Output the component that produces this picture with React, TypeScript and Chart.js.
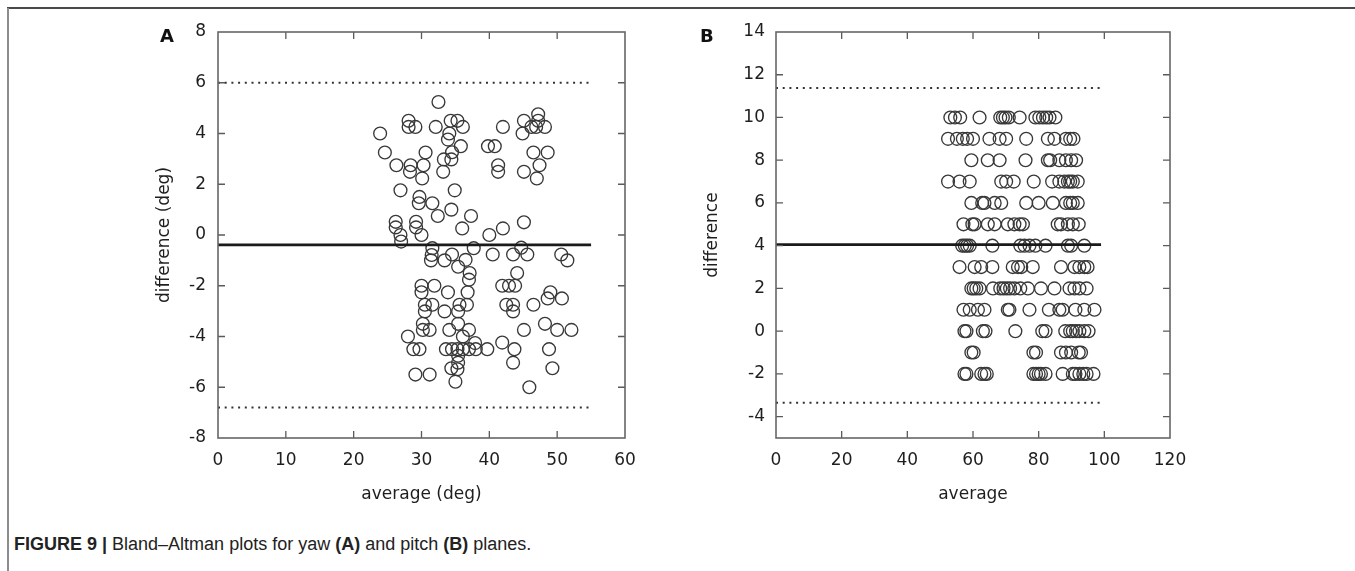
import React, { useEffect, useRef } from "react";
import { Chart, registerables } from "chart.js";

Chart.register(...registerables);

// ---------- Panel A (yaw) ----------
const yawAverage = [
  23.9, 24.6, 28.1, 28.1, 29.1, 32.5, 32.1, 34.3, 35.3, 36.1,
  34.1, 33.9, 35.8, 34.5, 34.4, 33.3, 33.2, 30.6, 30.3, 28.4,
  26.3, 28.3, 30.1, 26.9, 34.9, 29.7, 29.6, 31.6, 34.4, 32.4,
  37.3, 26.2, 26.2, 29.2, 29.2, 30.0, 26.9, 27.0, 36.0, 40.0,
  42.0, 45.1, 42.0, 39.8, 40.8, 41.3, 41.3, 45.1, 47.2, 47.2,
  46.2, 46.9, 48.2, 44.9, 46.5, 48.6, 47.4, 45.1, 47.0, 31.6,
  31.5, 31.4, 33.4, 34.5, 35.4, 36.5, 37.1, 37.0, 37.7, 40.5,
  43.5, 44.7, 45.6, 44.1, 50.6, 51.5, 30.0, 31.9, 30.0, 33.9,
  36.8, 41.9, 42.9, 43.8, 49.0, 48.6, 50.7, 30.5, 31.6, 30.5,
  33.4, 35.6, 36.7, 35.4, 35.4, 42.5, 43.5, 43.5, 46.5, 36.1,
  30.2, 30.2, 31.2, 34.1, 37.0, 28.0, 28.8, 29.7, 33.6, 34.5,
  35.3, 36.1, 37.0, 37.9, 38.0, 39.7, 41.9, 43.7, 43.5, 45.1,
  48.2, 50.0, 52.1, 48.8, 49.3, 34.4, 35.4, 35.3, 35.4, 35.0,
  29.1, 31.2, 45.9,
];
const yawDifference = [
  4.0, 3.25, 4.5, 4.26, 4.26, 5.24, 4.26, 4.5, 4.5, 4.26,
  4.0, 3.76, 3.5, 3.26, 2.98, 2.98, 2.49, 3.25, 2.75, 2.75,
  2.75, 2.49, 2.23, 1.76, 1.76, 1.5, 1.25, 1.25, 1.0, 0.75,
  0.75, 0.52, 0.3, 0.52, 0.3, 0.0, 0.0, -0.26, 0.26, 0.0,
  0.26, 0.5, 4.26, 3.5, 3.5, 2.75, 2.49, 4.5, 4.76, 4.5,
  4.26, 4.26, 4.26, 4.0, 3.25, 3.25, 2.75, 2.49, 2.23, -0.52,
  -0.79, -1.0, -1.0, -0.77, -1.25, -0.98, -1.5, -1.76, -0.52, -0.77,
  -0.77, -0.5, -0.77, -1.5, -0.77, -1.0, -2.0, -2.0, -2.26, -2.26,
  -2.26, -2.0, -2.0, -2.0, -2.26, -2.5, -2.5, -2.75, -2.75, -3.01,
  -3.01, -2.75, -2.75, -3.01, -3.5, -2.75, -2.75, -3.01, -2.75, -4.0,
  -3.5, -3.74, -3.74, -3.74, -3.74, -4.0, -4.5, -4.5, -4.5, -4.5,
  -4.5, -4.5, -4.5, -4.26, -4.5, -4.5, -4.24, -4.5, -5.03, -3.74,
  -3.5, -3.74, -3.74, -4.5, -5.25, -5.25, -5.03, -5.29, -4.76, -5.78,
  -5.5, -5.5, -6.0,
];
const yawMean = -0.39;
const yawUpperLimit = 6.0;
const yawLowerLimit = -6.8;
const yawLineRange = [0, 55];
const yawXTicks = [0, 60, 10];
const yawYTicks = [-8, 8, 2];

// ---------- Panel B (pitch) ----------
const pitchLevels = [10, 9, 8, 7, 6, 5, 4, 3, 2, 1, 0, -1, -2];
const pitchAvg10 = [53.1, 54.5, 56.1, 62.0, 68.3, 69.1, 69.9, 70.9, 74.2, 79.0, 80.2, 81.3, 82.3, 83.3, 85.1];
const pitchAvg9 = [52.4, 55.1, 56.9, 58.2, 60.0, 65.0, 68.1, 70.1, 76.2, 82.8, 84.8, 88.3, 89.6, 90.6];
const pitchAvg8 = [59.5, 64.5, 68.1, 76.0, 82.8, 83.5, 86.3, 88.3, 89.9, 91.4];
const pitchAvg7 = [52.4, 55.9, 59.0, 68.6, 70.1, 72.4, 78.5, 84.1, 86.3, 87.8, 88.9, 89.6, 90.4, 91.9];
const pitchAvg6 = [59.5, 62.8, 63.5, 66.6, 68.6, 76.2, 80.0, 84.3, 88.3, 89.6, 90.4, 91.9];
const pitchAvg5 = [57.1, 59.8, 60.5, 64.5, 66.6, 70.6, 72.6, 74.2, 75.2, 85.8, 86.8, 88.9, 90.4, 92.2];
const pitchAvg4 = [56.7, 57.5, 58.2, 59.0, 65.9, 74.4, 75.7, 77.2, 79.0, 82.1, 88.9, 89.9, 93.9];
const pitchAvg3 = [55.9, 60.5, 62.5, 65.9, 72.1, 73.7, 74.7, 78.2, 86.8, 90.9, 92.4, 93.9, 94.9];
const pitchAvg2 = [59.5, 60.2, 61.0, 62.0, 66.1, 68.3, 69.3, 70.3, 71.3, 72.6, 74.4, 76.7, 80.7, 84.8, 89.4, 90.9, 92.4, 94.6];
const pitchAvg1 = [57.1, 59.0, 61.5, 63.5, 70.6, 71.1, 77.2, 83.1, 86.3, 87.3, 91.2, 93.9, 97.0];
const pitchAvg0 = [57.4, 58.0, 63.0, 63.8, 72.9, 81.1, 82.1, 88.1, 89.6, 90.4, 91.4, 92.4, 93.9, 95.2];
const pitchAvgM1 = [59.5, 60.2, 78.4, 79.2, 86.8, 88.3, 89.9, 92.2, 92.9];
const pitchAvgM2 = [57.4, 58.0, 62.5, 63.5, 64.2, 78.4, 79.2, 80.0, 80.7, 82.1, 87.3, 90.4, 91.2, 92.4, 93.6, 94.6, 96.7];
const pitchAverages = [
  pitchAvg10, pitchAvg9, pitchAvg8, pitchAvg7, pitchAvg6, pitchAvg5, pitchAvg4,
  pitchAvg3, pitchAvg2, pitchAvg1, pitchAvg0, pitchAvgM1, pitchAvgM2,
];
const pitchMean = 4.05;
const pitchUpperLimit = 11.38;
const pitchLowerLimit = -3.35;
const pitchLineRange = [0, 99];
const pitchXTicks = [0, 120, 20];
const pitchYTicks = [-5, 14, 2];

// ---------- drawing ----------
const FONT = "'DejaVu Sans', sans-serif";
const TEXT = "#1e1e1e";

const framePlugin = {
  id: "gnuplotFrame",
  afterDatasetsDraw(chart: any) {
    const { ctx, chartArea } = chart;
    const { left, right, top, bottom } = chartArea;
    const xs = chart.scales.x;
    const ys = chart.scales.y;
    const L = 7;
    ctx.save();
    ctx.strokeStyle = "#5a5a5a";
    ctx.lineWidth = 1.3;
    ctx.beginPath();
    xs.ticks.forEach((t: any) => {
      const p = xs.getPixelForValue(t.value);
      if (p <= left + 1 || p >= right - 1) return;
      ctx.moveTo(p, bottom);
      ctx.lineTo(p, bottom - L);
      ctx.moveTo(p, top);
      ctx.lineTo(p, top + L);
    });
    ys.ticks.forEach((t: any) => {
      const p = ys.getPixelForValue(t.value);
      if (p <= top + 1 || p >= bottom - 1) return;
      ctx.moveTo(left, p);
      ctx.lineTo(left + L, p);
      ctx.moveTo(right, p);
      ctx.lineTo(right - L, p);
    });
    ctx.stroke();
    ctx.lineWidth = 1.6;
    ctx.strokeStyle = "#666";
    ctx.strokeRect(left, top, right - left, bottom - top);
    ctx.restore();
  },
};

function hLine(y: number, range: number[], dotted: boolean) {
  return {
    type: "line",
    data: [
      { x: range[0], y },
      { x: range[1], y },
    ],
    borderColor: dotted ? "#333" : "#1a1a1a",
    borderWidth: dotted ? 2 : 2.6,
    borderDash: dotted ? [2, 4.7] : [],
    borderCapStyle: "butt",
    pointRadius: 0,
    showLine: true,
    fill: false,
    order: 0,
  };
}

function makeConfig(p: any) {
  const font = { family: FONT, size: 17 };
  return {
    type: "scatter",
    data: {
      datasets: [
        {
          data: p.points,
          pointStyle: "circle",
          pointRadius: 6.4,
          pointBorderWidth: 1.35,
          pointBorderColor: "#383838",
          pointBackgroundColor: "rgba(0,0,0,0)",
          borderColor: "#383838",
          backgroundColor: "rgba(0,0,0,0)",
          order: 1,
        },
        hLine(p.upper, p.range, true),
        hLine(p.mean, p.range, false),
        hLine(p.lower, p.range, true),
      ],
    },
    options: {
      animation: false,
      responsive: false,
      maintainAspectRatio: false,
      events: [],
      layout: { padding: { top: 32, right: p.padRight, bottom: 0, left: 0 } },
      plugins: { legend: { display: false }, tooltip: { enabled: false } },
      scales: {
        x: {
          type: "linear",
          min: p.xTicks[0],
          max: p.xTicks[1],
          grid: { display: false, drawTicks: false },
          border: { display: false },
          ticks: { stepSize: p.xTicks[2], padding: 12.8, font, color: TEXT, maxRotation: 0, includeBounds: false },
          title: { display: true, text: p.xTitle, font, color: TEXT, padding: { top: 0, bottom: 15.5 } },
          afterFit: (s: any) => {
            s.height = 82;
          },
        },
        y: {
          type: "linear",
          min: p.yTicks[0],
          max: p.yTicks[1],
          grid: { display: false, drawTicks: false },
          border: { display: false },
          ticks: { stepSize: p.yTicks[2], padding: p.yPad, font, color: TEXT, includeBounds: false },
          title: { display: true, text: p.yTitle, font, color: TEXT, padding: { top: p.yTitlePad, bottom: 0 } },
          afterFit: (s: any) => {
            s.width = p.yWidth;
          },
        },
      },
    },
    plugins: [framePlugin],
  };
}

function Panel(props: { cfg: any; left: number }) {
  const ref = useRef<HTMLCanvasElement | null>(null);
  useEffect(() => {
    if (!ref.current) return;
    const chart = new Chart(ref.current, makeConfig(props.cfg) as any);
    return () => chart.destroy();
  }, []);
  return (
    <canvas
      ref={ref}
      width={520}
      height={520}
      style={{ position: "absolute", left: props.left, top: 0, width: 520, height: 520 }}
    />
  );
}

export default function App() {
  const yawPoints = yawAverage.map((x, i) => ({ x, y: yawDifference[i] }));
  const pitchPoints: { x: number; y: number }[] = [];
  pitchLevels.forEach((lvl, i) => {
    pitchAverages[i].forEach((x) => pitchPoints.push({ x, y: lvl }));
  });

  const cfgA = {
    points: yawPoints,
    mean: yawMean,
    upper: yawUpperLimit,
    lower: yawLowerLimit,
    range: yawLineRange,
    xTicks: yawXTicks,
    yTicks: yawYTicks,
    xTitle: "average (deg)",
    yTitle: "difference (deg)",
    yWidth: 88,
    yPad: 12,
    yTitlePad: 24,
    padRight: 25,
  };
  const cfgB = {
    points: pitchPoints,
    mean: pitchMean,
    upper: pitchUpperLimit,
    lower: pitchLowerLimit,
    range: pitchLineRange,
    xTicks: pitchXTicks,
    yTicks: pitchYTicks,
    xTitle: "average",
    yTitle: "difference",
    yWidth: 96,
    yPad: 11,
    yTitlePad: 22.5,
    padRight: 30,
  };

  const panelLetter: React.CSSProperties = {
    position: "absolute",
    top: 25,
    fontFamily: FONT,
    fontWeight: "bold",
    fontSize: 18,
    color: "#111",
    lineHeight: "22px",
  };

  return (
    <div
      style={{
        position: "absolute",
        left: 0,
        top: 0,
        width: 1355,
        height: 571,
        overflow: "hidden",
        background: "#fff",
      }}
    >
      <div style={{ position: "absolute", left: 7, right: 0, top: 7, height: 2, background: "#4a4a4a" }} />
      <div style={{ position: "absolute", left: 7, width: 2, top: 8, bottom: 0, background: "#8c8c8c" }} />
      <Panel cfg={cfgA} left={130} />
      <Panel cfg={cfgB} left={680} />
      <div style={{ ...panelLetter, left: 160 }}>A</div>
      <div style={{ ...panelLetter, left: 700 }}>B</div>
      <div
        style={{
          position: "absolute",
          left: 14,
          top: 533,
          fontFamily: "'Liberation Sans', Arial, sans-serif",
          fontSize: 18,
          color: "#222",
          whiteSpace: "nowrap",
          lineHeight: "22px",
        }}
      >
        <b>FIGURE 9 |</b> Bland–Altman plots for yaw <b>(A)</b> and pitch <b>(B)</b> planes.
      </div>
    </div>
  );
}
